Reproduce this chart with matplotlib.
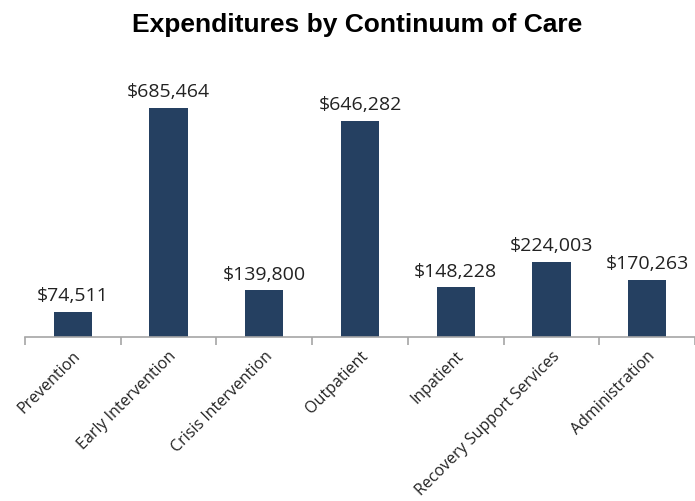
import matplotlib
matplotlib.use("Agg")
import matplotlib.pyplot as plt
import numpy as np

categories = ["Prevention", "Early Intervention", "Crisis Intervention", "Outpatient",
              "Inpatient", "Recovery Support Services", "Administration"]
values = [74511, 685464, 139800, 646282, 148228, 224003, 170263]

fig = plt.figure(figsize=(6.95, 5.01), dpi=100)
ax = fig.add_axes([25/695, 1 - 337/501, 670/695, 277/501])

x = np.arange(len(categories))
bars = ax.bar(x, values, width=0.4, color="#254061", zorder=2)

ax.set_xlim(-0.5, 6.46)
ax.set_ylim(0, 829100)

for xi, v in zip(x, values):
    ax.text(xi, v + 20000, f"${v:,}", ha="center", va="bottom",
            fontsize=14, family="Open Sans", color="#222222")

for s in ["top", "right", "left"]:
    ax.spines[s].set_visible(False)
ax.spines["bottom"].set_color("#A6A6A6")
ax.spines["bottom"].set_linewidth(1.2)
ax.set_yticks([])

ax.set_xticks(x)
ax.set_xticklabels(categories, rotation=45, ha="right", rotation_mode="anchor",
                   fontsize=11.5, family="Open Sans", color="#222222")
ax.tick_params(axis="x", which="major", length=0, pad=8)
ax.set_xticks(np.arange(-0.5, 7, 1.0), minor=True)
ax.tick_params(axis="x", which="minor", length=6, color="#A6A6A6", width=1.2)

fig.text(357/695, 1 - 32/501, "Expenditures by Continuum of Care", ha="center", va="baseline",
         fontsize=19, fontweight="bold", family="Liberation Sans")

fig.savefig("out.png", dpi=100)
